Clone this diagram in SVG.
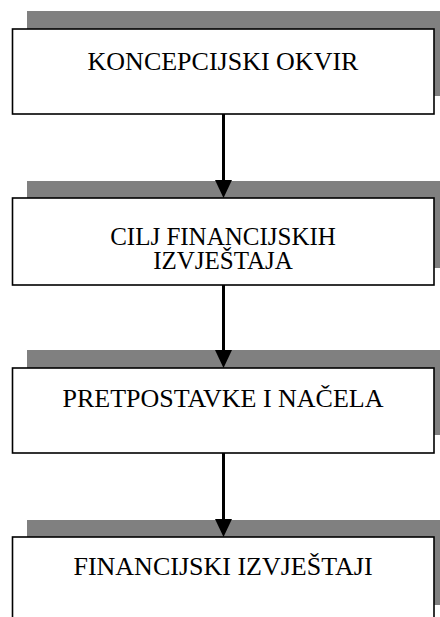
<svg xmlns="http://www.w3.org/2000/svg" width="440" height="617" viewBox="0 0 440 617">
<defs>
<style>
.shadow{fill:#808080;stroke:none}
.box{fill:#ffffff;stroke:#000000;stroke-width:1.6}
.lbl{font-family:"Liberation Serif","Times New Roman",serif;font-size:26px;fill:#000000;text-anchor:middle}
.lbl2{font-size:25px}
.conn{stroke:#000000;stroke-width:3;fill:none}
.head{fill:#000000;stroke:none}
</style>
</defs>
<rect width="440" height="617" fill="#ffffff"/>
<g id="node1">
<rect class="shadow" x="27" y="11" width="422" height="85"/>
<rect class="box" x="12.5" y="29" width="421.5" height="85"/>
<text class="lbl" x="223" y="70">KONCEPCIJSKI OKVIR</text>
</g>
<g id="node2">
<rect class="shadow" x="27" y="181" width="422" height="87"/>
<rect class="box" x="12.5" y="198" width="421.5" height="87"/>
<text class="lbl lbl2" x="223" y="245">CILJ FINANCIJSKIH</text>
<text class="lbl lbl2" x="223" y="269">IZVJEŠTAJA</text>
</g>
<g id="node3">
<rect class="shadow" x="27" y="350" width="422" height="85"/>
<rect class="box" x="12.5" y="368" width="421.5" height="85"/>
<text class="lbl" x="223" y="407">PRETPOSTAVKE I NAČELA</text>
</g>
<g id="node4">
<rect class="shadow" x="27" y="520" width="422" height="85"/>
<rect class="box" x="12.5" y="537" width="421.5" height="100"/>
<text class="lbl" x="223" y="575">FINANCIJSKI IZVJEŠTAJI</text>
</g>
<g id="connectors">
<line class="conn" x1="223.5" y1="114" x2="223.5" y2="182"/>
<polygon class="head" points="215,180 232,180 223.5,198"/>
<line class="conn" x1="223.5" y1="285" x2="223.5" y2="352"/>
<polygon class="head" points="215,350 232,350 223.5,368"/>
<line class="conn" x1="223.5" y1="453" x2="223.5" y2="521"/>
<polygon class="head" points="215,519 232,519 223.5,537"/>
</g>
</svg>
